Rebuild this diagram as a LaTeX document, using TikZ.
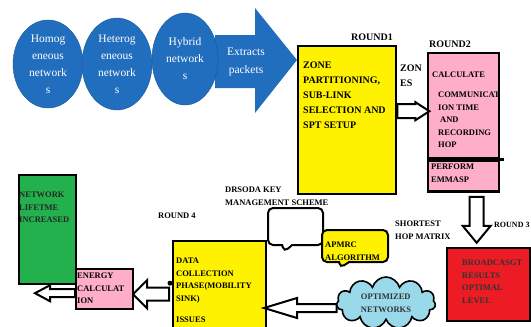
\documentclass[tikz,border=0pt]{standalone}
\usepackage{fontspec}
\setmainfont{Liberation Serif}
\usetikzlibrary{shapes.geometric, shapes.callouts, shapes.symbols}

\definecolor{netblue}{RGB}{33,110,190}
\definecolor{zoneyellow}{RGB}{255,242,0}
\definecolor{calcpink}{RGB}{255,174,201}
\definecolor{lifegreen}{RGB}{34,177,76}
\definecolor{bcastred}{RGB}{237,28,36}
\definecolor{cloudblue}{RGB}{153,217,234}

\tikzset{
  box/.style={draw, line width=2.4pt, inner sep=0pt, anchor=north west},
  txt/.style={font=\fontsize{8.5}{12.5}\selectfont\bfseries, align=left, inner sep=0pt, anchor=north west},
  bigtxt/.style={font=\fontsize{10}{15}\selectfont\bfseries, align=left, inner sep=0pt, anchor=north west},
  net/.style={ellipse, fill=netblue, draw=netblue!80!black, text=white, align=center, inner sep=0pt, font=\fontsize{11.5}{17}\selectfont},
  hollow/.style={draw, fill=white, line width=2pt, line join=miter},
  note/.style={rectangle callout, draw, line width=2pt, rounded corners=5pt, callout pointer width=10pt}
}

\begin{document}
\begin{tikzpicture}[x=1pt, y=-1pt]
    \useasboundingbox (0,0) rectangle (531,327);

    \fill[netblue] (215,35) -- (255,35) -- (255,8) -- (297,60) -- (255,113) -- (255,88) -- (215,88) -- cycle;
    \node[net, minimum width=70pt, minimum height=88pt] (homo) at (48,64) {Homog\\eneous\\network\\s};
    \node[net, minimum width=70pt, minimum height=92pt] (hetero) at (117,64) {Heterog\\eneous\\network\\s};
    \node[net, minimum width=66pt, minimum height=92pt] (hybrid) at (185,59) {Hybrid\\network\\s};
    \node[text=white, align=center, font=\fontsize{11.5}{18}\selectfont] (extract) at (246,62) {Extracts\\packets};

    \node[box, fill=zoneyellow, minimum width=98pt, minimum height=148pt] (zone) at (297,45) {};
    \node[bigtxt] (zonetxt) at (303,62) {ZONE\\PARTITIONING,\\SUB-LINK\\SELECTION AND\\SPT SETUP};
    \node[bigtxt, anchor=center] (round1) at (372,37) {ROUND1};
    \node[bigtxt] (zones) at (400,65) {ZON\\ES};

    \node[box, fill=calcpink, minimum width=71pt, minimum height=105pt] (calc) at (427,52) {};
    \node[box, fill=calcpink, minimum width=71pt, minimum height=31pt, anchor=north] (emmasp) at (calc.south) {};
    \draw[line width=2.4pt] (calc.south east) -- ++(4,0);
    \node[bigtxt, anchor=center] (round2) at (450,44) {ROUND2};
    \node[txt] (calctxt) at (432,72) {CALCULATE};
    \node[txt] (commtxt) at (438,92) {COMMUNICAT\\ION TIME\\\hspace{2pt}AND\\RECORDING\\HOP};
    \node[txt] (emmasptxt) at (431,164) {PERFORM\\EMMASP};

    \draw[hollow] (zone.east) ++(0,-16) -- ++(18,0) -- ++(0,-2) -- ++(14,9) -- ++(-14,9) -- ++(0,-2) -- ++(-18,0) -- cycle;
    \draw[hollow] (emmasp.south) ++(6,4) -- ++(0,29) -- ++(-7,0) -- ++(14,17) -- ++(14,-17) -- ++(-7,0) -- ++(0,-29) -- cycle;

    \node[box, fill=bcastred, minimum width=83pt, minimum height=73pt] (bcast) at (446,247) {};
    \node[txt, text=black!80] (bcasttxt) at (462,260) {BROADCASGT\\RESULTS\\OPTIMAL\\LEVEL};
    \node[txt, font=\fontsize{8}{12}\selectfont\bfseries] (round3) at (494,222) {ROUND 3};
    \node[txt] (hopmatrix) at (395,221) {SHORTEST\\HOP MATRIX};

    \node[txt] (drsoda) at (225,187) {DRSODA KEY\\MANAGEMENT SCHEME};
    \node[note, fill=white, minimum width=55pt, minimum height=37pt, callout absolute pointer={(284,252)}] (keynote) at (295.5,226.5) {};
    \node[note, fill=zoneyellow, minimum width=66pt, minimum height=32pt, callout absolute pointer={(340,268)}] (apmrc) at (355,246) {};
    \node[txt] (apmrctxt) at (325,242) {APMRC\\ALGORITHM};

    \node[txt] (round4) at (158,213) {ROUND 4};
    \node[box, fill=zoneyellow, minimum width=93pt, minimum height=100pt] (collect) at (172,240) {};
    \node[txt] (collecttxt) at (176,258) {DATA\\COLLECTION\\PHASE(MOBILITY\\SINK)\\[9pt]ISSUES};

    \draw[hollow] (collect.west) ++(-3,-3.5) -- ++(-22,0) -- ++(0,-7.5) -- ++(-14,14) -- ++(14,14) -- ++(0,-7.5) -- ++(22,0) -- cycle;
    \fill (collect.west) ++(-2,-8) circle (2.5pt);

    \node[box, fill=lifegreen, minimum width=57pt, minimum height=109pt] (life) at (18,174) {};
    \node[txt, text=black!85] (lifetxt) at (19,192) {NETWORK\\LIFETME\\INCREASED};
    \node[box, fill=calcpink, minimum width=57pt, minimum height=40pt] (energy) at (75,268) {};
    \node[txt] (energytxt) at (77,273) {ENERGY\\CALCULAT\\ION};
    \draw[hollow] (energy.west) -- ++(-25,0) -- ++(0,-4) -- ++(-15,8) -- ++(15,8) -- ++(0,-4) -- ++(25,0) -- cycle;

    \draw[hollow] (386,303) ++(-49.5,1) -- ++(-39.5,0) -- ++(0,-6) -- ++(-33,10) -- ++(33,10) -- ++(0,-6) -- ++(39.5,0) -- cycle;
    \node[cloud, draw, line width=1.6pt, fill=cloudblue, cloud puffs=11, aspect=2, minimum width=99pt, minimum height=52pt, inner sep=0pt, align=left, text=black!80, font=\fontsize{8.5}{12.5}\selectfont\bfseries] (optnet) at (386,303) {OPTIMIZED\\NETWORKS};
\end{tikzpicture}
\end{document}
